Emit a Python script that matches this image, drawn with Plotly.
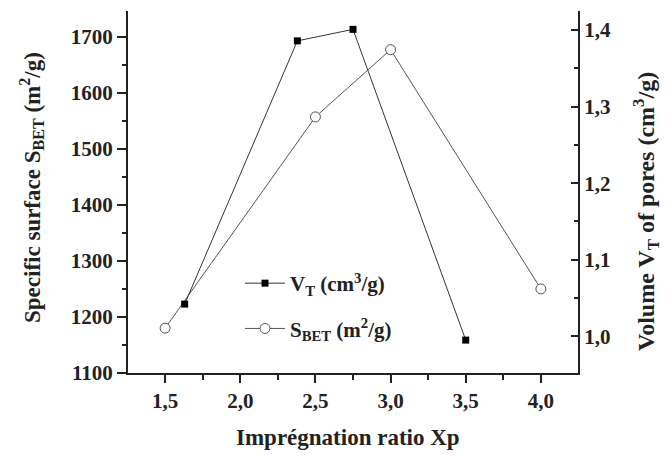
import plotly.graph_objects as go

# Data
vt_x = [1.63, 2.38, 2.75, 3.5]
vt_y = [1.042, 1.386, 1.401, 0.995]          # V_T (cm3/g), right axis
sbet_x = [1.5, 2.5, 3.0, 4.0]
sbet_y = [1180, 1557, 1677, 1250]            # S_BET (m2/g), left axis

x_tickvals = [1.5, 2.0, 2.5, 3.0, 3.5, 4.0]
x_ticktext = ["1,5", "2,0", "2,5", "3,0", "3,5", "4,0"]
y_tickvals = [1100, 1200, 1300, 1400, 1500, 1600, 1700]
y_ticktext = ["1100", "1200", "1300", "1400", "1500", "1600", "1700"]
y2_tickvals = [1.0, 1.1, 1.2, 1.3, 1.4]
y2_ticktext = ["1,0", "1,1", "1,2", "1,3", "1,4"]
top_tickvals = [2.0, 2.75, 3.5]

FONT = "Liberation Serif"
W, H = 666, 457
L, R, T, B = 128, 88, 11, 84
pw, ph = W - L - R, H - T - B

fig = go.Figure()
fig.add_trace(go.Scatter(
    x=vt_x, y=vt_y, yaxis="y2", mode="lines+markers",
    name="V<sub>T</sub> (cm<sup>3</sup>/g)", legendgroup="vt",
    line=dict(color="#333333", width=1),
    marker=dict(symbol="square", size=7, color="black"),
))
fig.add_trace(go.Scatter(
    x=sbet_x, y=sbet_y, yaxis="y", mode="lines+markers",
    name="S<sub>BET</sub> (m<sup>2</sup>/g)", legendgroup="sbet",
    line=dict(color="#555555", width=1),
    marker=dict(symbol="circle", size=10, color="white",
                line=dict(color="#555555", width=1)),
))

tickfont = dict(family=FONT, size=21, color="#222222", weight="bold")

fig.update_layout(
    width=W, height=H,
    margin=dict(l=L, r=R, t=T, b=B),
    paper_bgcolor="white", plot_bgcolor="white",
    font=dict(family=FONT, color="#222222"),
    showlegend=True,
    legend=dict(x=(240 - L) / pw, y=(H - B - 263) / ph, xanchor="left", yanchor="top",
                bgcolor="rgba(0,0,0,0)", font=dict(family=FONT, size=21, color="#222222", weight="bold"),
                itemwidth=40, tracegroupgap=15),
    xaxis=dict(range=[1.253, 4.247], tickvals=x_tickvals, ticktext=x_ticktext,
               ticks="outside", ticklen=8, tickwidth=1.5, tickcolor="#222",
               minor=dict(dtick=0.25, tick0=1.25, ticks="outside", ticklen=5, tickwidth=1.5, tickcolor="#222"),
               showline=True, linecolor="#222", linewidth=2, showgrid=False, zeroline=False,
               tickfont=tickfont),
    xaxis2=dict(range=[1.253, 4.247], overlaying="x", side="top", tickvals=top_tickvals,
                showticklabels=False, ticks="inside", ticklen=4, tickwidth=1.5, tickcolor="#222",
                showline=True, linecolor="#333", linewidth=2, showgrid=False, zeroline=False),
    yaxis=dict(range=[1100, 1746], tickvals=y_tickvals, ticktext=y_ticktext,
               ticks="outside", ticklen=9, tickwidth=1.5, tickcolor="#222",
               minor=dict(dtick=50, tick0=1100, ticks="outside", ticklen=4, tickwidth=1.5, tickcolor="#222"),
               showline=True, linecolor="#222", linewidth=2, showgrid=False, zeroline=False,
               tickfont=tickfont),
    yaxis2=dict(range=[0.952, 1.425], overlaying="y", side="right", anchor="x",
                tickvals=y2_tickvals, ticktext=y2_ticktext,
                ticks="inside", ticklen=7, tickwidth=1.5, tickcolor="#222",
                minor=dict(dtick=0.05, tick0=0.95, ticks="inside", ticklen=4, tickwidth=1.5, tickcolor="#222"),
                showline=True, linecolor="#222", linewidth=2, showgrid=False, zeroline=False,
                tickfont=tickfont),
)

fig.add_annotation(text="Specific surface S<sub>BET</sub> (m<sup>2</sup>/g)",
                   xref="paper", yref="paper", x=(31 - L) / pw, y=(H - B - 188) / ph,
                   textangle=-90, showarrow=False,
                   font=dict(family=FONT, size=23, color="#222222", weight="bold"),
                   xanchor="center", yanchor="middle")
fig.add_annotation(text="Volume V<sub>T</sub> of pores (cm<sup>3</sup>/g)",
                   xref="paper", yref="paper", x=(646 - L) / pw, y=(H - B - 212) / ph,
                   textangle=-90, showarrow=False,
                   font=dict(family=FONT, size=24, color="#222222", weight="bold"),
                   xanchor="center", yanchor="middle")
fig.add_annotation(text="Imprégnation ratio Xp",
                   xref="paper", yref="paper", x=(348 - L) / pw, y=(H - B - 437) / ph,
                   showarrow=False,
                   font=dict(family=FONT, size=23, color="#222222", weight="bold"),
                   xanchor="center", yanchor="middle")

fig.write_html("out.html")
